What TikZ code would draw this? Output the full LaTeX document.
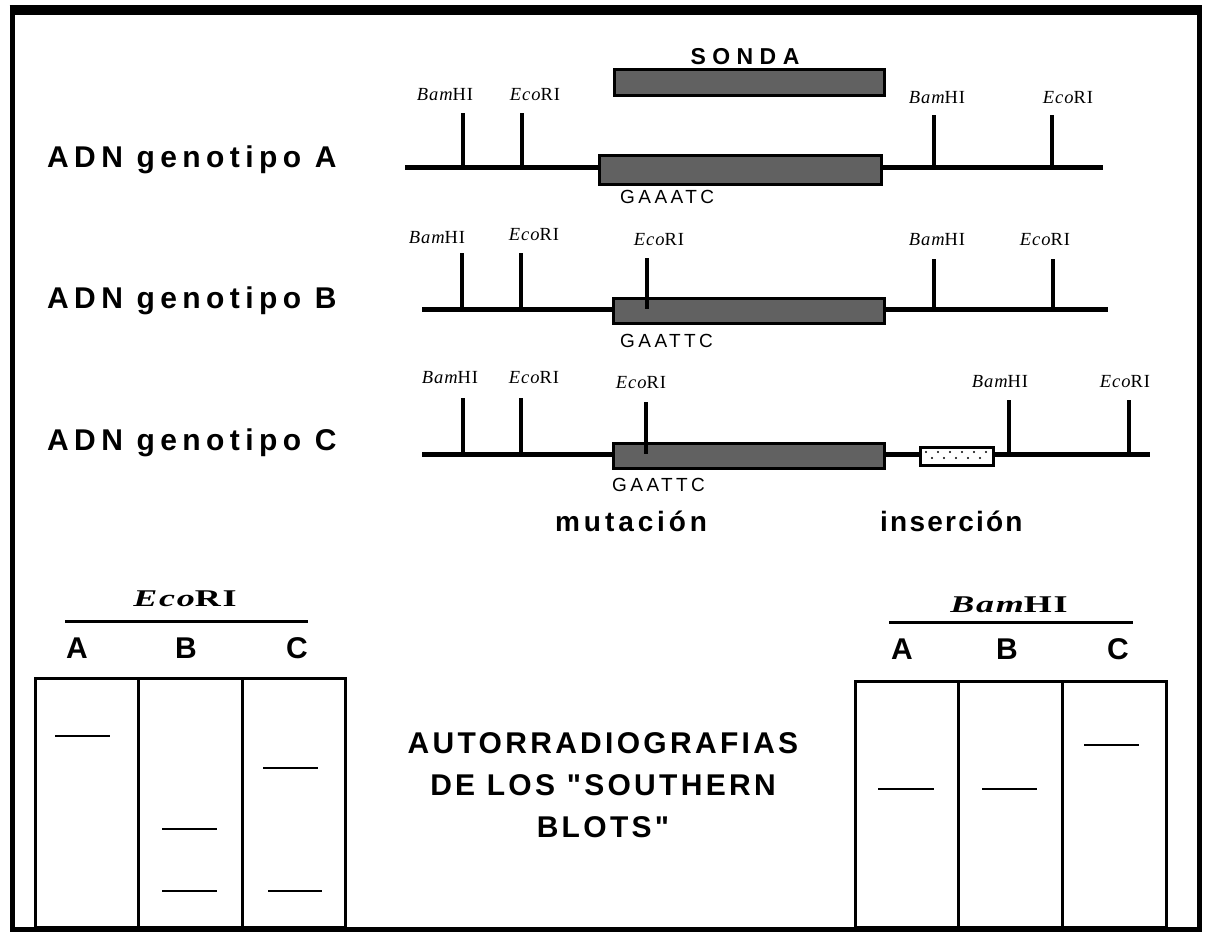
\documentclass[tikz,border=0pt]{standalone}
\usepackage{fontspec}
\setmainfont{Liberation Serif}
\newfontfamily\hv{Liberation Sans}
\newcommand\trk[1]{\addfontfeatures{LetterSpace=#1}}
\newcommand\BamL{{\itshape Bam}HI}
\newcommand\EcoL{{\itshape Eco}RI}
\tikzset{
  frame/.style={line width=5pt},
  dna/.style={line width=5pt},
  site/.style={line width=3.5pt},
  gene/.style={draw=black,line width=3pt,fill=black!62},
  ins/.style={draw=black,line width=3pt,fill=white},
  enz/.style={inner sep=0pt,anchor=base,font=\fontsize{18.5}{18}\selectfont\trk{5}},
  big/.style={inner sep=0pt,anchor=base west,font=\hv\bfseries\fontsize{30}{30}\selectfont\trk{18}},
  lane/.style={inner sep=0pt,anchor=base,font=\hv\bfseries\fontsize{30}{30}\selectfont},
  seq/.style={inner sep=0pt,anchor=base west,font=\hv\fontsize{19}{19}\selectfont\trk{18}},
  gel/.style={line width=3pt},
  band/.style={line width=2.5pt},
  enzbig/.style={inner sep=0pt,anchor=base,font=\bfseries\fontsize{24}{24}\selectfont\trk{5}}
}
\begin{document}
\begin{tikzpicture}[x=1pt,y=-1pt]
\useasboundingbox (0,0) rectangle (1205,934);
% frame
\draw[frame] (12,12) rectangle (1199,929);
\draw[line width=10pt] (9.5,10) -- (1201.5,10);

% ---------------- Row A
\node[big] (lA) at (47,167) {ADN genotipo A};
\coordinate (a0) at (405,167); \coordinate (a1) at (1103,167);
\draw[dna] (a0) -- (a1);
\node[gene,minimum width=282pt,minimum height=29pt,anchor=north west] (geneA) at (598,154) {};
\foreach \x/\t in {463/113,522/113,934/115,1052/115}{
  \coordinate (at\x) at (\x,\t); \coordinate (ab\x) at (\x,167);
  \draw[site] (at\x) -- (ab\x);}
\node[enz] (eA1) at (445,100) {\BamL};
\node[enz] (eA2) at (535,100) {\EcoL};
\node[enz] (eA3) at (937,103) {\BamL};
\node[enz] (eA4) at (1068,103) {\EcoL};
\node[gene,minimum width=270pt,minimum height=26pt,anchor=north west] (probe) at (613,68) {};
\node[inner sep=0pt,anchor=base,font=\hv\bfseries\fontsize{23}{23}\selectfont\trk{28}] (sonda) at (745,65) {SONDA};
\node[seq] (sA) at (620,203) {GAAATC};

% ---------------- Row B
\node[big] (lB) at (47,308) {ADN genotipo B};
\coordinate (b0) at (422,309); \coordinate (b1) at (1108,309);
\draw[dna] (b0) -- (b1);
\node[gene,minimum width=271pt,minimum height=25pt,anchor=north west] (geneB) at (612,297) {};
\foreach \x/\t in {462/253,521/253,647/258,934/259,1053/259}{
  \coordinate (bt\x) at (\x,\t); \coordinate (bb\x) at (\x,309);
  \draw[site] (bt\x) -- (bb\x);}
\node[enz] (eB1) at (437,243) {\BamL};
\node[enz] (eB2) at (534,240) {\EcoL};
\node[enz] (eB3) at (659,245) {\EcoL};
\node[enz] (eB4) at (937,245) {\BamL};
\node[enz] (eB5) at (1045,245) {\EcoL};
\node[seq] (sB) at (620,347) {GAATTC};

% ---------------- Row C
\node[big] (lC) at (47,450) {ADN genotipo C};
\coordinate (c0) at (422,454); \coordinate (c1) at (1150,454);
\draw[dna] (c0) -- (c1);
\node[gene,minimum width=271pt,minimum height=25pt,anchor=north west] (geneC) at (612,442) {};
\node[ins,minimum width=73pt,minimum height=18pt,anchor=north west] (insC) at (919,446) {};
\foreach \x in {926,938,950,962,974,986}{\fill (\x,452) circle (1.2pt);}
\foreach \x in {932,944,956,968,980}{\fill (\x,458) circle (1.2pt);}
\foreach \x/\t in {463/398,521/398,646/402,1009/400,1129/400}{
  \coordinate (ct\x) at (\x,\t); \coordinate (cb\x) at (\x,454);
  \draw[site] (ct\x) -- (cb\x);}
\node[enz] (eC1) at (450,383) {\BamL};
\node[enz] (eC2) at (534,383) {\EcoL};
\node[enz] (eC3) at (641,388) {\EcoL};
\node[enz] (eC4) at (1000,387) {\BamL};
\node[enz] (eC5) at (1125,387) {\EcoL};
\node[seq] (sC) at (612,491) {GAATTC};
\node[inner sep=0pt,anchor=base west,font=\hv\bfseries\fontsize{28}{28}\selectfont\trk{14}] (mut) at (555,531) {mutación};
\node[inner sep=0pt,anchor=base west,font=\hv\bfseries\fontsize{28}{28}\selectfont\trk{8}] (insl) at (880,531) {inserción};

% ---------------- EcoRI blot
\node[enzbig] (gE) at (185,606) {\scalebox{1.5}[1]{{\itshape Eco}RI}};
\coordinate (gEl) at (65,621); \coordinate (gEr) at (308,621);
\draw[line width=3pt] (gEl) -- (gEr);
\node[lane] (gEA) at (77,658) {A};
\node[lane] (gEB) at (186,658) {B};
\node[lane] (gEC) at (297,658) {C};
\draw[gel] (35,678) rectangle (345,927);
\draw[gel] (138,678) -- (138,927);
\draw[gel] (242,678) -- (242,927);
\draw[band] (55,736) -- (110,736);
\draw[band] (162,829) -- (217,829);
\draw[band] (162,891) -- (217,891);
\draw[band] (263,768) -- (318,768);
\draw[band] (268,891) -- (322,891);

% ---------------- BamHI blot
\node[enzbig] (gB) at (1009,612) {\scalebox{1.5}[1]{{\itshape Bam}HI}};
\coordinate (gBl) at (889,622); \coordinate (gBr) at (1133,622);
\draw[line width=3pt] (gBl) -- (gBr);
\node[lane] (gBA) at (902,659) {A};
\node[lane] (gBB) at (1007,659) {B};
\node[lane] (gBC) at (1118,659) {C};
\draw[gel] (855,681) rectangle (1166,927);
\draw[gel] (958,681) -- (958,927);
\draw[gel] (1062,681) -- (1062,927);
\draw[band] (878,789) -- (934,789);
\draw[band] (982,789) -- (1037,789);
\draw[band] (1084,745) -- (1139,745);

% ---------------- caption
\node[inner sep=0pt,anchor=base,align=center,font=\hv\bfseries\fontsize{30}{42}\selectfont\trk{11}] (cap) at (603,837) {AUTORRADIOGRAFIAS\\DE LOS "SOUTHERN\\BLOTS"};
\end{tikzpicture}
\end{document}
